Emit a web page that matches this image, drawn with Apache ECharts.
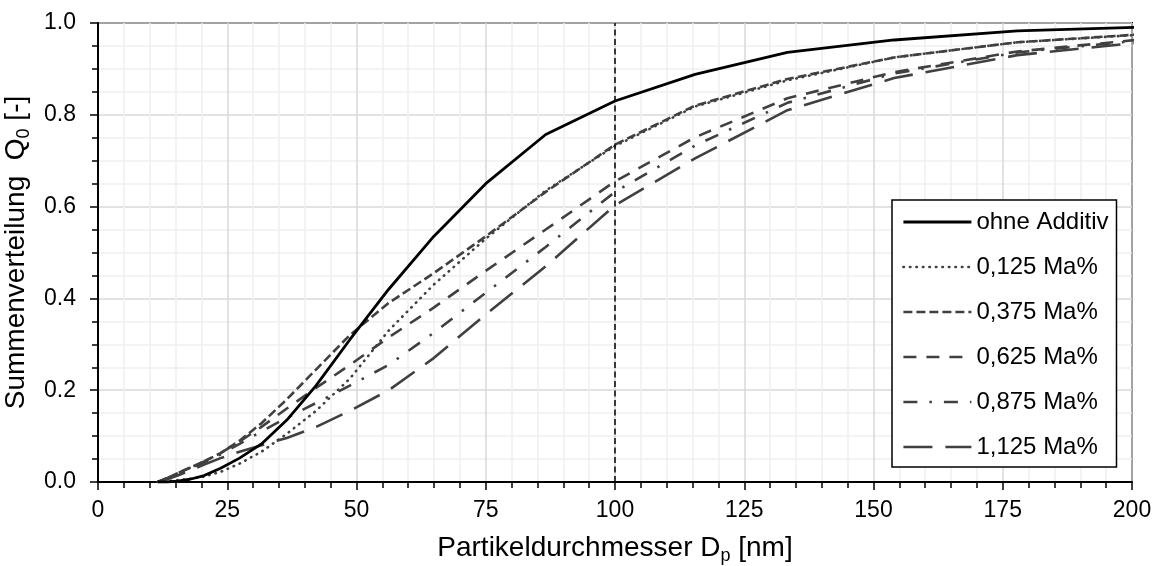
<!DOCTYPE html>
<html>
<head>
<meta charset="utf-8">
<script src="https://cdn.jsdelivr.net/npm/echarts@6/dist/echarts.min.js"></script>
<style>
html,body{margin:0;padding:0;background:#fff;}
#chart{width:1158px;height:566px;}
</style>
</head>
<body>
<div id="chart"></div>
<script>
// particle diameters (nm) of the size classes
var sizes = [11.55, 13.34, 15.40, 17.78, 20.54, 23.71, 27.38, 31.62, 36.52, 42.17, 48.70, 56.23, 64.94, 74.99, 86.60, 100.00, 115.48, 133.35, 153.99, 177.83, 205.35];
// cumulative distribution Q0 per additive content
var ohneAdditiv = [0, 0, 0.002, 0.006, 0.014, 0.03, 0.052, 0.083, 0.135, 0.21, 0.31, 0.42, 0.535, 0.65, 0.757, 0.83, 0.888, 0.936, 0.963, 0.983, 0.992];
var ma0125 = [0, 0.002, 0.004, 0.007, 0.012, 0.022, 0.04, 0.066, 0.105, 0.155, 0.225, 0.33, 0.43, 0.53, 0.635, 0.732, 0.818, 0.875, 0.925, 0.958, 0.977];
var ma0375 = [0, 0.008, 0.019, 0.031, 0.045, 0.063, 0.09, 0.128, 0.18, 0.245, 0.32, 0.39, 0.455, 0.535, 0.632, 0.735, 0.82, 0.878, 0.925, 0.958, 0.978];
var ma0625 = [0, 0.008, 0.019, 0.031, 0.045, 0.063, 0.088, 0.12, 0.16, 0.205, 0.255, 0.315, 0.38, 0.46, 0.55, 0.655, 0.751, 0.836, 0.893, 0.938, 0.968];
var ma0875 = [0, 0.008, 0.018, 0.029, 0.043, 0.06, 0.083, 0.11, 0.14, 0.172, 0.21, 0.255, 0.325, 0.412, 0.512, 0.632, 0.733, 0.826, 0.89, 0.936, 0.966];
var ma1125 = [0, 0.006, 0.014, 0.025, 0.038, 0.052, 0.066, 0.08, 0.096, 0.12, 0.155, 0.2, 0.27, 0.365, 0.47, 0.603, 0.705, 0.81, 0.88, 0.93, 0.962];
var seriesNames = ['ohne Additiv', '0,125 Ma%', '0,375 Ma%', '0,625 Ma%', '0,875 Ma%', '1,125 Ma%'];
var refDiameter = 100;
var xTicks = {min: 0, max: 200, interval: 25};
var yTicks = {min: 0, max: 1, interval: 0.2};

var FONT = '"Liberation Sans", Arial, sans-serif';
var GRAY = '#404040';
var styles = [
  {color: '#000', width: 2.8, type: 'solid', cap: 'butt'},
  {color: GRAY, width: 2.6, type: [0.5, 6], cap: 'round'},
  {color: GRAY, width: 2.6, type: [9, 4], cap: 'butt'},
  {color: GRAY, width: 2.6, type: [13, 10], cap: 'butt'},
  {color: GRAY, width: 2.6, type: [14, 12, 2.5, 12], cap: 'butt'},
  {color: GRAY, width: 2.6, type: [29, 13], cap: 'butt'}
];
var values = [ohneAdditiv, ma0125, ma0375, ma0625, ma0875, ma1125];

function pairs(ys) { return sizes.map(function (x, i) { return [x, ys[i]]; }); }

var series = values.map(function (ys, i) {
  var s = {
    name: seriesNames[i],
    type: 'line',
    data: pairs(ys),
    symbol: 'none',
    smooth: false,
    clip: true,
    z: i === 0 ? 5 : 3,
    lineStyle: styles[i],
    itemStyle: {color: styles[i].color}
  };
  if (i === 0) {
    s.markLine = {
      silent: true,
      symbol: 'none',
      label: {show: false},
      lineStyle: {color: '#000', width: 1.5, type: [6, 3.5]},
      data: [{xAxis: refDiameter}]
    };
  }
  return s;
});

var TITLE_SIZE = 28;
var chart = echarts.init(document.getElementById('chart'), null, {renderer: 'canvas'});
chart.setOption({
  animation: false,
  backgroundColor: '#fff',
  textStyle: {fontFamily: FONT},
  grid: {left: 98, right: 26, top: 23, bottom: 84, containLabel: false, outerBoundsMode: 'none', show: true, borderColor: '#000', borderWidth: 2, backgroundColor: 'transparent'},
  legend: {
    orient: 'vertical',
    left: 892, top: 200,
    padding: [10, 8, 8, 10],
    itemWidth: 68, itemHeight: 14, itemGap: 21,
    backgroundColor: '#fff', borderColor: '#000', borderWidth: 1.5, borderRadius: 0,
    textStyle: {fontFamily: FONT, fontSize: 24, color: '#000', lineHeight: 24},
    data: seriesNames.map(function (n, i) {
      return {
        name: n,
        lineStyle: {color: styles[i].color, width: styles[i].width, type: styles[i].type, cap: styles[i].cap},
        itemStyle: {opacity: 0, borderWidth: 0}
      };
    })
  },
  xAxis: {
    type: 'value', min: xTicks.min, max: xTicks.max, interval: xTicks.interval,
    name: 'Partikeldurchmesser D{sub|p} [nm]',
    nameLocation: 'middle', nameGap: 50,
    nameTextStyle: {fontFamily: FONT, fontSize: TITLE_SIZE, color: '#000', rich: {sub: {fontFamily: FONT, fontSize: 18, color: '#000', padding: [15, 0, 0, 0]}}},
    axisLine: {show: true, onZero: false, lineStyle: {color: '#000', width: 2}},
    axisTick: {show: true, length: 8, lineStyle: {color: '#000', width: 1.5}},
    minorTick: {show: true, splitNumber: 5, length: 6, lineStyle: {color: '#000', width: 1.5}},
    axisLabel: {fontFamily: FONT, fontSize: 23, color: '#000', margin: 17},
    splitLine: {show: true, lineStyle: {color: '#d9d9d9', width: 1.5}},
    minorSplitLine: {show: true, lineStyle: {color: '#f0f0f0', width: 1.5}}
  },
  yAxis: {
    type: 'value', min: yTicks.min, max: yTicks.max, interval: yTicks.interval,
    name: 'Summenverteilung  Q{sub|0} [-]',
    nameLocation: 'middle', nameGap: 59, nameRotate: 90,
    nameTextStyle: {fontFamily: FONT, fontSize: TITLE_SIZE, color: '#000', rich: {sub: {fontFamily: FONT, fontSize: 18, color: '#000', padding: [15, 0, 0, 0]}}},
    axisLine: {show: true, onZero: false, lineStyle: {color: '#000', width: 2}},
    axisTick: {show: true, length: 8, lineStyle: {color: '#000', width: 1.5}},
    minorTick: {show: true, splitNumber: 4, length: 6, lineStyle: {color: '#000', width: 1.5}},
    axisLabel: {fontFamily: FONT, fontSize: 23, color: '#000', margin: 22, formatter: function (v) { return v.toFixed(1); }},
    splitLine: {show: true, lineStyle: {color: '#d9d9d9', width: 1.5}},
    minorSplitLine: {show: true, lineStyle: {color: '#f0f0f0', width: 1.5}}
  },
  series: series
});
</script>
</body>
</html>
